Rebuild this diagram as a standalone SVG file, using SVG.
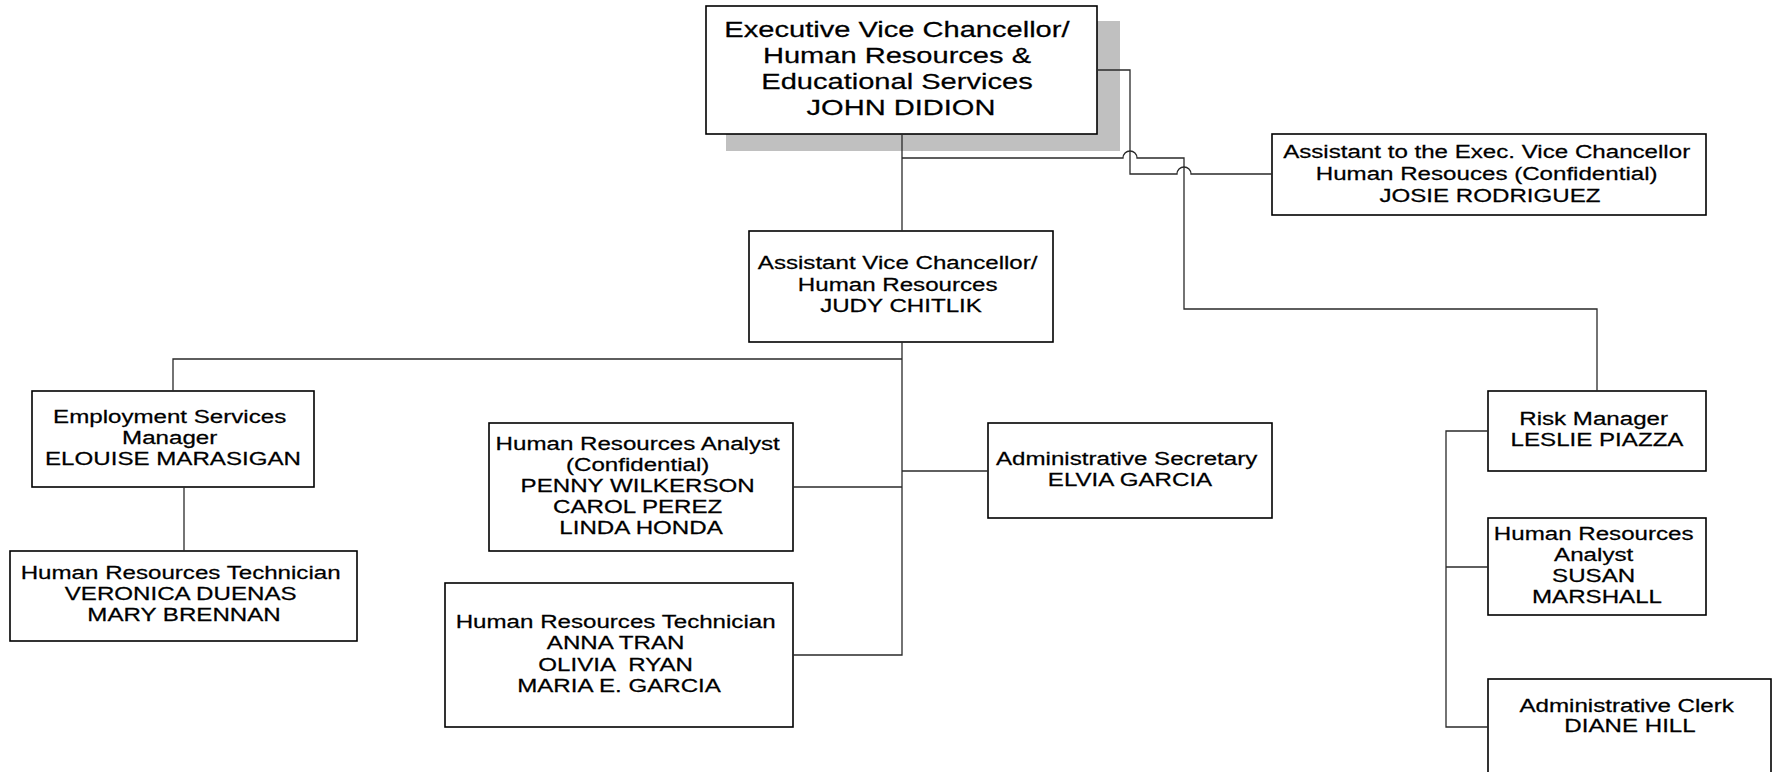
<svg xmlns="http://www.w3.org/2000/svg" width="1774" height="772" viewBox="0 0 1774 772">
  <style>
    .box { fill: #ffffff; stroke: #000000; stroke-width: 1.6; }
    .shadow { fill: #c0c0c0; stroke: none; }
    .lbl { font-family: "Liberation Sans", Arial, sans-serif; font-size: 19px; fill: #000000; stroke: #000000; stroke-width: 0.25; text-anchor: middle; }
    .big { font-size: 22.9px; }
    .wire { fill: none; stroke: #2a2a2a; stroke-width: 1.3; }
  </style>

  <!-- top node: Executive Vice Chancellor -->
  <g id="exec-vc">
    <rect class="shadow" x="726" y="21" width="394" height="130"/>
    <rect class="box" x="706" y="6" width="391" height="128"/>
    <text class="lbl big" transform="translate(901 0) scale(1.27 1)">
      <tspan x="0" y="37">Executive Vice Chancellor/</tspan>
      <tspan x="0" y="63">Human Resources &amp;</tspan>
      <tspan x="0" y="89">Educational Services</tspan>
      <tspan x="0" y="115">JOHN DIDION</tspan>
    </text>
  </g>

  <g id="assistant-evc">
    <rect class="box" x="1272" y="134" width="434" height="81"/>
    <text class="lbl" transform="translate(1490 0) scale(1.27 1)">
      <tspan x="0" y="158">Assistant to the Exec. Vice Chancellor</tspan>
      <tspan x="0" y="180">Human Resouces (Confidential)</tspan>
      <tspan x="0" y="202">JOSIE RODRIGUEZ</tspan>
    </text>
  </g>

  <g id="avc-hr">
    <rect class="box" x="749" y="231" width="304" height="111"/>
    <text class="lbl" transform="translate(901 0) scale(1.27 1)">
      <tspan x="0" y="269">Assistant Vice Chancellor/</tspan>
      <tspan x="0" y="291">Human Resources</tspan>
      <tspan x="0" y="312">JUDY CHITLIK</tspan>
    </text>
  </g>

  <g id="employment-mgr">
    <rect class="box" x="32" y="391" width="282" height="96"/>
    <text class="lbl" transform="translate(173 0) scale(1.27 1)">
      <tspan x="0" y="423">Employment Services</tspan>
      <tspan x="0" y="444">Manager</tspan>
      <tspan x="0" y="465">ELOUISE MARASIGAN</tspan>
    </text>
  </g>

  <g id="hr-tech-1">
    <rect class="box" x="10" y="551" width="347" height="90"/>
    <text class="lbl" transform="translate(184 0) scale(1.27 1)">
      <tspan x="0" y="579">Human Resources Technician</tspan>
      <tspan x="0" y="600">VERONICA DUENAS</tspan>
      <tspan x="0" y="621">MARY BRENNAN</tspan>
    </text>
  </g>

  <g id="hr-analyst-conf">
    <rect class="box" x="489" y="423" width="304" height="128"/>
    <text class="lbl" transform="translate(641 0) scale(1.27 1)">
      <tspan x="0" y="450">Human Resources Analyst</tspan>
      <tspan x="0" y="471">(Confidential)</tspan>
      <tspan x="0" y="492">PENNY WILKERSON</tspan>
      <tspan x="0" y="513">CAROL PEREZ</tspan>
      <tspan x="0" y="534">LINDA HONDA</tspan>
    </text>
  </g>

  <g id="hr-tech-2">
    <rect class="box" x="445" y="583" width="348" height="144"/>
    <text class="lbl" transform="translate(619 0) scale(1.27 1)">
      <tspan x="0" y="628">Human Resources Technician</tspan>
      <tspan x="0" y="649">ANNA TRAN</tspan>
      <tspan x="0" y="671" xml:space="preserve">OLIVIA  RYAN</tspan>
      <tspan x="0" y="692">MARIA E. GARCIA</tspan>
    </text>
  </g>

  <g id="admin-secretary">
    <rect class="box" x="988" y="423" width="284" height="95"/>
    <text class="lbl" transform="translate(1130 0) scale(1.27 1)">
      <tspan x="0" y="465">Administrative Secretary</tspan>
      <tspan x="0" y="486">ELVIA GARCIA</tspan>
    </text>
  </g>

  <g id="risk-mgr">
    <rect class="box" x="1488" y="391" width="218" height="80"/>
    <text class="lbl" transform="translate(1597 0) scale(1.27 1)">
      <tspan x="0" y="425">Risk Manager</tspan>
      <tspan x="0" y="446">LESLIE PIAZZA</tspan>
    </text>
  </g>

  <g id="hr-analyst-risk">
    <rect class="box" x="1488" y="518" width="218" height="97"/>
    <text class="lbl" transform="translate(1597 0) scale(1.27 1)">
      <tspan x="0" y="540">Human Resources</tspan>
      <tspan x="0" y="561">Analyst</tspan>
      <tspan x="0" y="582">SUSAN</tspan>
      <tspan x="0" y="603">MARSHALL</tspan>
    </text>
  </g>

  <g id="admin-clerk">
    <rect class="box" x="1488" y="679" width="283" height="110"/>
    <text class="lbl" transform="translate(1630 0) scale(1.27 1)">
      <tspan x="0" y="712">Administrative Clerk</tspan>
      <tspan x="0" y="732">DIANE HILL</tspan>
    </text>
  </g>

  <!-- reporting lines; small hops mark where two lines cross -->
  <g id="connectors">
    <path class="wire" d="M902 134 V231"/>
    <path class="wire" d="M902 158 H1123 A7 7 0 0 1 1137 158 H1184 V309 H1597 V391"/>
    <path class="wire" d="M1097 70 H1130 V174 H1177 A7 7 0 0 1 1191 174 H1272"/>
    <path class="wire" d="M902 342 V655 H793"/>
    <path class="wire" d="M902 359 H173 V391"/>
    <path class="wire" d="M184 487 V551"/>
    <path class="wire" d="M793 487 H902"/>
    <path class="wire" d="M902 471 H988"/>
    <path class="wire" d="M1488 431 H1446 V727 H1488"/>
    <path class="wire" d="M1446 567 H1488"/>
  </g>
</svg>
